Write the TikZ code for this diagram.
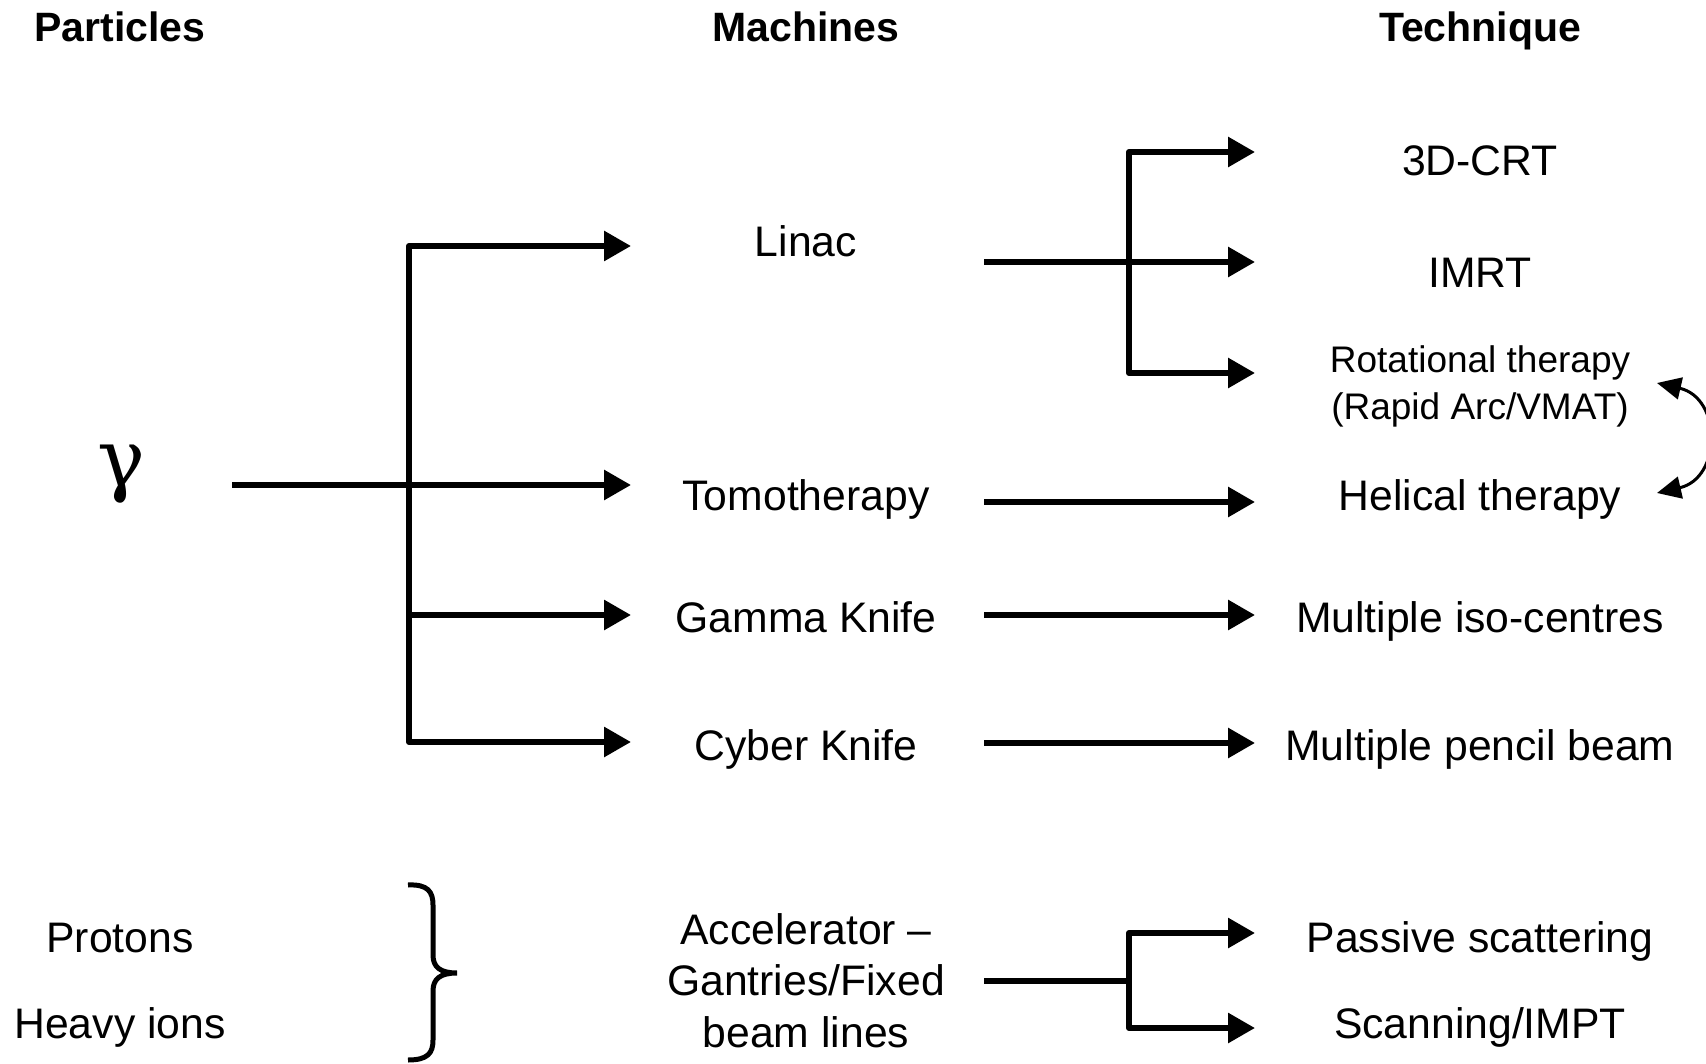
\documentclass[tikz,border=0pt]{standalone}
\usepackage{fontspec}
\setmainfont{Liberation Sans}
\newfontfamily\grkfont{DejaVu Serif}
\usetikzlibrary{arrows.meta}
\begin{document}
\begin{tikzpicture}[x=1pt,y=-1pt,
 lbl/.style={inner sep=0pt, anchor=base, font=\fontsize{42.7}{50}\selectfont},
 smalllbl/.style={inner sep=0pt, anchor=base, font=\fontsize{37}{44}\selectfont},
 hdr/.style={inner sep=0pt, anchor=base, font=\fontsize{41}{48}\selectfont\bfseries},
 ln/.style={line width=6pt, line join=round},
 arr/.style={ln, -{Triangle[length=27pt,width=29pt]}},
 dblarr/.style={ln, {Triangle[length=27pt,width=29pt]}-{Triangle[length=27pt,width=29pt]}},
 curvearr/.style={line width=3pt, {Triangle[length=24pt,width=22pt]}-{Triangle[length=24pt,width=22pt]}},
 ]
\useasboundingbox (0,0) rectangle (1706,1064);
% headers
\node[hdr] (hP) at (120,42) {Particles};
\node[hdr] (hM) at (806,42) {Machines};
\node[hdr] (hT) at (1480,42) {Technique};
% particles
\node[inner sep=0pt, anchor=base, font=\fontsize{80}{90}\selectfont\grkfont] (gam) at (121,486) {γ};
\node[lbl] (prot) at (120,952) {Protons};
\node[lbl] (heavy) at (120,1038) {Heavy ions};
% machines
\node[lbl] (linac) at (806,257) {Linac};
\node[lbl] (tomo) at (806,510) {Tomotherapy};
\node[lbl] (gk) at (806,632) {Gamma Knife};
\node[lbl] (ck) at (806,760) {Cyber Knife};
\node[lbl] (acc1) at (806,944) {Accelerator –};
\node[lbl] (acc2) at (806,995) {Gantries/Fixed};
\node[lbl] (acc3) at (806,1047) {beam lines};
% techniques
\node[lbl] (crt) at (1480,176) {3D-CRT};
\node[lbl] (imrt) at (1480,288) {IMRT};
\node[smalllbl] (rot1) at (1480,373) {Rotational therapy};
\node[smalllbl] (rot2) at (1480,420) {(Rapid Arc/VMAT)};
\node[lbl] (hel) at (1480,510) {Helical therapy};
\node[lbl] (iso) at (1480,632) {Multiple iso-centres};
\node[lbl] (pen) at (1480,760) {Multiple pencil beam};
\node[lbl] (pas) at (1480,952) {Passive scattering};
\node[lbl] (scan) at (1480,1038) {Scanning/IMPT};
% coordinates
\coordinate (g0) at (232,485);
\coordinate (tTop) at (409,246);
\coordinate (tBot) at (409,742);
\coordinate (aLinac) at (631,246);
\coordinate (aTomo) at (631,485);
\coordinate (tGK) at (409,615);
\coordinate (aGK) at (631,615);
\coordinate (aCK) at (631,742);
\coordinate (lOut) at (984,262);
\coordinate (j1) at (1129,152);
\coordinate (j3) at (1129,373);
\coordinate (a3D) at (1255,152);
\coordinate (aIMRT) at (1255,262);
\coordinate (aRot) at (1255,373);
\coordinate (tOut) at (984,502);
\coordinate (aHel) at (1255,502);
\coordinate (gOut) at (984,615);
\coordinate (aIso) at (1255,615);
\coordinate (cOut) at (984,743);
\coordinate (aPen) at (1255,743);
\coordinate (accOut) at (984,981);
\coordinate (kMid) at (1129,981);
\coordinate (k1) at (1129,933);
\coordinate (k2) at (1129,1028);
\coordinate (aPas) at (1255,933);
\coordinate (aScan) at (1255,1028);
\coordinate (c1) at (1657,383);
\coordinate (c2) at (1657,493);
% left tree
\draw[dblarr] (aLinac) -- (tTop) -- (tBot) -- (aCK);
\draw[arr] (g0) -- (aTomo);
\draw[arr] (tGK) -- (aGK);
% linac techniques
\draw[dblarr] (a3D) -- (j1) -- (j3) -- (aRot);
\draw[arr] (lOut) -- (aIMRT);
\draw[arr] (tOut) -- (aHel);
\draw[arr] (gOut) -- (aIso);
\draw[arr] (cOut) -- (aPen);
% accelerator
\draw[dblarr] (aPas) -- (k1) -- (k2) -- (aScan);
\draw[ln] (accOut) -- (kMid);
% brace
\draw[line width=5pt] (408,885) .. controls (428,884) and (433,892) .. (433,905) -- (433,955) .. controls (433,967) and (440,973) .. (457,973)
  .. controls (440,973) and (433,979) .. (433,991) -- (433,1040) .. controls (433,1053) and (428,1060) .. (408,1060);
% curved arrow
\draw[curvearr] (c1) .. controls (1722,398) and (1722,478) .. (c2);
\end{tikzpicture}
\end{document}
